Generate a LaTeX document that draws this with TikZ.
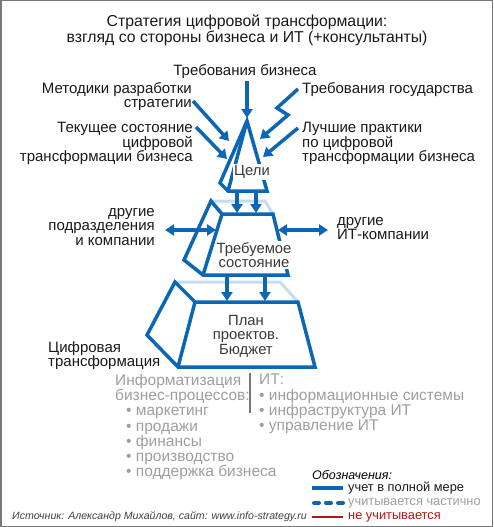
\documentclass[tikz,border=0pt]{standalone}
\usepackage{fontspec}
\setmainfont{Liberation Sans}
\usetikzlibrary{arrows.meta}
\definecolor{bl}{RGB}{12,102,182}
\definecolor{lbl}{RGB}{198,220,240}
\definecolor{gtxt}{RGB}{158,158,158}
\definecolor{gbar}{RGB}{120,120,120}
\definecolor{dred}{RGB}{180,20,20}
\definecolor{frame}{RGB}{120,120,120}
\begin{document}
\begin{tikzpicture}[x=1pt,y=-1pt,
  edge/.style={draw=bl,line width=3.5pt},
  back/.style={draw=lbl,line width=3pt},
  arr/.style={draw=bl,line width=3.5pt,-{Triangle[length=9pt,width=11pt]}},
  darr/.style={draw=bl,line width=3.5pt,{Triangle[length=9pt,width=11pt]}-{Triangle[length=9pt,width=11pt]}},
  lab/.style={font=\fontsize{15}{14.7}\selectfont,inner sep=0pt,text=black!90},
  intxt/.style={font=\fontsize{14.8}{14.5}\selectfont,inner sep=1.5pt,text=black!78,fill=white,align=center},
  gray/.style={font=\fontsize{15.5}{15.2}\selectfont,inner sep=0pt,text=gtxt,align=left},
  leg/.style={font=\fontsize{12.8}{13}\selectfont,inner sep=0pt,anchor=west}
]
\useasboundingbox (0,0) rectangle (493,527);
\draw[frame,line width=1.5pt] (0.75,0.75) rectangle (492.25,526.25);

% title
\node[lab,font=\fontsize{15.8}{14.5}\selectfont,align=center,anchor=north] (title) at (247,15)
  {Стратегия цифровой трансформации:\\взгляд со стороны бизнеса и ИТ (+консультанты)};

% labels
\node[lab,anchor=north] (reqbiz) at (245,64) {Требования бизнеса};
\node[lab,align=right,anchor=north east] (method) at (192,82) {Методики разработки\\стратегии};
\node[lab,align=right,anchor=north east] (current) at (193,122) {Текущее состояние\\цифровой\\трансформации бизнеса};
\node[lab,anchor=north west] (reqgov) at (302,82) {Требования государства};
\node[lab,align=left,anchor=north west] (best) at (302,122) {Лучшие практики\\по цифровой\\трансформации бизнеса};
\node[lab,align=right,anchor=north east] (otherdep) at (155,208) {другие\\подразделения\\и компании};
\node[lab,align=left,anchor=north west] (otherit) at (337,217) {другие\\ИТ-компании};
\node[lab,align=left,anchor=north west] (digit) at (48,341) {Цифровая\\трансформация};

% coordinates of shapes
\coordinate (A) at (247,121);
\coordinate (L) at (220,183);
\coordinate (BL) at (228,191);
\coordinate (BR) at (267,191);

\coordinate (mBT) at (211,201);
\coordinate (mBTR) at (265,201);
\coordinate (mTL) at (222,214);
\coordinate (mTR) at (273,214);
\coordinate (mBR) at (288,275);
\coordinate (mBL) at (203,275);
\coordinate (mL) at (184,260);

\coordinate (bBT) at (175,282);
\coordinate (bBTR) at (280,282);
\coordinate (bTL) at (195,302);
\coordinate (bTR) at (298,302);
\coordinate (bBR) at (315,367);
\coordinate (bBL) at (178,367);
\coordinate (bL) at (147,335);

% back (light) edges
\draw[back] (mBT) -- (mBTR) -- (mTR);
\draw[back] (bBT) -- (bBTR) -- (bTR);

% shapes
\draw[edge] (A) -- (L) -- (BL) -- (BR) -- cycle;
\draw[edge] (A) -- (BL);
\draw[edge] (mBT) -- (mL) -- (mBL) -- (mBR) -- (mTR) -- (mTL) -- cycle;
\draw[edge] (mTL) -- (mBL);
\draw[edge] (bBT) -- (bL) -- (bBL) -- (bBR) -- (bTR) -- (bTL) -- cycle;
\draw[edge] (bTL) -- (bBL);

% texts in shapes
\node[intxt] (goals) at (252,172) {Цели};
\node[intxt] (target) at (254,255) {Требуемое\\состояние};
\node[intxt,fill=none] (plan) at (246,336) {План\\проектов.\\Бюджет};

% arrow coordinates
\coordinate (t0) at (247,81);   \coordinate (t1) at (247,118);
\coordinate (m0) at (193,101);  \coordinate (m1) at (229,141);
\coordinate (c0) at (196,127);  \coordinate (c1) at (227,159);
\coordinate (g0) at (298,89);   \coordinate (g1) at (277,108);
\coordinate (g2) at (288,115);  \coordinate (g3) at (260,139);
\coordinate (p0) at (298,128);  \coordinate (p1) at (263,157);
\coordinate (d1a) at (237,191); \coordinate (d1b) at (237,213);
\coordinate (d2a) at (256,191); \coordinate (d2b) at (256,213);
\coordinate (la) at (165,230);  \coordinate (lb) at (216,230);
\coordinate (ra) at (278,230);  \coordinate (rb) at (328,230);
\coordinate (d3a) at (227,275); \coordinate (d3b) at (227,301);
\coordinate (d4a) at (265,275); \coordinate (d4b) at (265,301);

\draw[arr] (t0) -- (t1);
\draw[arr] (m0) -- (m1);
\draw[arr] (c0) -- (c1);
\draw[arr] (g0) -- (g1) -- (g2) -- (g3);
\draw[arr] (p0) -- (p1);
\draw[arr] (d1a) -- (d1b);
\draw[arr] (d2a) -- (d2b);
\draw[darr] (la) -- (lb);
\draw[darr] (ra) -- (rb);
\draw[arr] (d3a) -- (d3b);
\draw[arr] (d4a) -- (d4b);

% gray lists
\node[gray,anchor=north west] (inf) at (115,374) {Информатизация\\бизнес-процессов:\\
  \hspace*{11pt}• маркетинг\\\hspace*{11pt}• продажи\\\hspace*{11pt}• финансы\\
  \hspace*{11pt}• производство\\\hspace*{11pt}• поддержка бизнеса};
\node[gray,anchor=north west] (it) at (259,374) {ИТ:\\• информационные системы\\• инфраструктура ИТ\\• управление ИТ};
\coordinate (bar0) at (250,373); \coordinate (bar1) at (250,413);
\draw[gbar,line width=2.5pt] (bar0) -- (bar1);

% legend
\node[leg,font=\fontsize{12.5}{13}\itshape] (legt) at (312,475) {Обозначения:};
\coordinate (l1a) at (312,488); \coordinate (l1b) at (343,488);
\coordinate (l2a) at (314,503); \coordinate (l2b) at (343,503);
\coordinate (l3a) at (312,517); \coordinate (l3b) at (343,517);
\draw[bl,line width=3.5pt] (l1a) -- (l1b);
\draw[bl,line width=4pt,line cap=round,dash pattern=on 5pt off 7pt] (l2a) -- (l2b);
\draw[dred,line width=1.2pt] (l3a) -- (l3b);
\node[leg,text=black!90] (leg1) at (348,488) {учет в полной мере};
\node[leg,text=gtxt] (leg2) at (348,503) {учитывается частично};
\node[leg,text=dred] (leg3) at (348,517) {не учитывается};

\node[leg,font=\fontsize{10.6}{11}\itshape,text=black!75] (src) at (12,517) {Источник: Александр Михайлов, сайт: www.info-strategy.ru};
\end{tikzpicture}
\end{document}
